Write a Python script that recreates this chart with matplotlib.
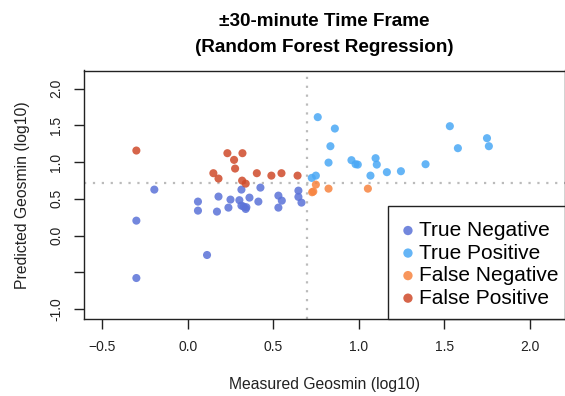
import numpy as np
import matplotlib.pyplot as plt
from matplotlib.patches import Rectangle

plt.rcParams['font.family'] = ['Liberation Sans', 'DejaVu Sans']

THRESHOLD = 0.7

# measured / predicted geosmin (log10)
tn_measured = [-0.195, -0.30, -0.30, 0.113, 0.060, 0.060, 0.180, 0.171, 0.250, 0.238,
               0.302, 0.314, 0.314, 0.327, 0.343, 0.339, 0.361, 0.413, 0.425, 0.530,
               0.550, 0.530, 0.647, 0.647, 0.665]
tn_predicted = [0.626, 0.204, -0.576, -0.263, 0.463, 0.340, 0.531, 0.327, 0.490, 0.381,
                0.482, 0.626, 0.408, 0.395, 0.386, 0.363, 0.517, 0.463, 0.653, 0.544,
                0.476, 0.381, 0.612, 0.527, 0.449]

tp_measured = [0.760, 0.860, 0.834, 0.823, 0.725, 0.749, 0.957, 0.981, 0.994, 1.098,
               1.105, 1.068, 1.164, 1.246, 1.390, 1.532, 1.579, 1.749, 1.760]
tp_predicted = [1.611, 1.456, 1.216, 0.993, 0.785, 0.816, 1.026, 0.971, 0.966, 1.053,
                0.966, 0.816, 0.863, 0.876, 0.971, 1.488, 1.189, 1.325, 1.216]

fn_measured = [0.749, 0.727, 0.734, 0.823, 1.053]
fn_predicted = [0.694, 0.590, 0.600, 0.639, 0.639]

fp_measured = [-0.30, 0.232, 0.320, 0.271, 0.277, 0.150, 0.180, 0.318, 0.339, 0.404,
               0.489, 0.548, 0.642]
fp_predicted = [1.157, 1.121, 1.121, 1.030, 0.912, 0.849, 0.776, 0.748, 0.707, 0.849,
                0.816, 0.849, 0.816]

groups = [
    ('True Negative', tn_measured, tn_predicted, '#5b72d8'),
    ('True Positive', tp_measured, tp_predicted, '#4aa8f5'),
    ('False Negative', fn_measured, fn_predicted, '#f7843f'),
    ('False Positive', fp_measured, fp_predicted, '#cf4a2a'),
]

W, H = 565, 396
fig = plt.figure(figsize=(W / 100, H / 100), dpi=100)
ax = fig.add_axes([84 / W, 1 - 319 / H, (564.5 - 84) / W, (319 - 70.5) / H])

ax.axvline(THRESHOLD, color='#bbbbbb', linestyle=(0, (1, 3)), linewidth=1.6, zorder=1)
ax.axhline(THRESHOLD + 0.015, color='#bbbbbb', linestyle=(0, (1, 3)), linewidth=1.6, zorder=1)

for label, xs, ys, color in groups:
    ax.scatter(xs, ys, s=34, color=color, alpha=0.85, edgecolors='none', label=label, zorder=3)

ax.set_xlim(-0.606, 2.202)
ax.set_ylim(-1.133, 2.245)
ax.set_xticks([-0.5, 0.0, 0.5, 1.0, 1.5, 2.0])
ax.set_yticks([-1.0, -0.5, 0.0, 0.5, 1.0, 1.5, 2.0])
ax.set_yticklabels(['-1.0', '', '0.0', '0.5', '1.0', '1.5', '2.0'], rotation=90, va='center')
ax.tick_params(direction='out', length=7, width=1, labelsize=10, colors='#222222', pad=8)
for sp in ax.spines.values():
    sp.set_linewidth(1)
    sp.set_color('#222222')

ax.set_xlabel('Measured Geosmin (log10)', fontsize=11.3, labelpad=17, color='#222222')
ax.set_ylabel('Predicted Geosmin (log10)', fontsize=11.3, labelpad=14, color='#222222')
ax.set_title('\u00b130-minute Time Frame\n(Random Forest Regression)',
             fontsize=13.6, fontweight='bold', pad=13, linespacing=1.75)

# R-style legend box: text runs right up to the frame
box = Rectangle((388 / W, 1 - 319 / H), (564.5 - 388) / W, (319 - 206) / H,
                transform=fig.transFigure, facecolor='white', edgecolor='#222222',
                linewidth=1, zorder=4, clip_on=False)
ax.add_patch(box)
leg = ax.legend(loc='upper left', bbox_to_anchor=(396.5 / W, 1 - 221 / H),
                bbox_transform=fig.transFigure, borderaxespad=0, borderpad=0,
                fontsize=15, frameon=False, handletextpad=0.0, labelspacing=0.17,
                handlelength=1.1, markerscale=1.15)
leg.set_zorder(5)

fig.savefig('out.png', dpi=100)
